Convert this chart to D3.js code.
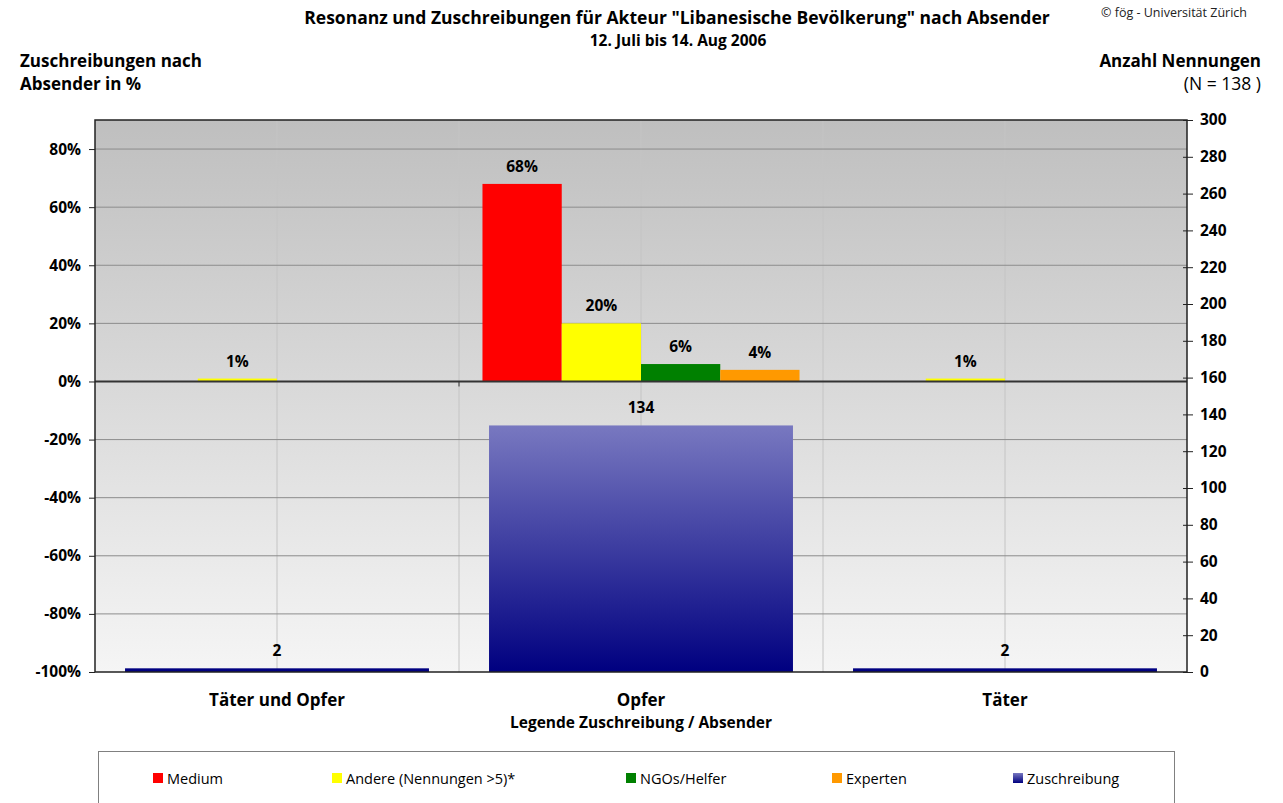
<!DOCTYPE html>
<html>
<head>
<meta charset="utf-8">
<script src="https://cdn.jsdelivr.net/npm/d3@7"></script>
<style>
  body { margin: 0; background: #fff; }
  svg { font-family: "Open Sans", sans-serif; }
</style>
</head>
<body>
<script>
const categories = ["Täter und Opfer", "Opfer", "Täter"];
const seriesNames = ["Medium", "Andere (Nennungen >5)*", "NGOs/Helfer", "Experten"];
const seriesColors = ["#ff0000", "#ffff00", "#008000", "#ff9900"];
const medium = [0, 68, 0];
const andere = [1, 20, 1];
const ngos = [0, 6, 0];
const experten = [0, 4, 0];
const zuschreibung = [2, 134, 2];
const pctTicks = [-100, -80, -60, -40, -20, 0, 20, 40, 60, 80];
const countTicks = [0, 20, 40, 60, 80, 100, 120, 140, 160, 180, 200, 220, 240, 260, 280, 300];

const seriesValues = [medium, andere, ngos, experten];

const W = 1283, H = 803;
const pLeft = 95, pRight = 1187, pTop = 120, pBottom = 672;

const svg = d3.select("body").append("svg")
    .attr("width", W).attr("height", H);

const defs = svg.append("defs");
const bg = defs.append("linearGradient").attr("id", "bg")
    .attr("x1", 0).attr("y1", 0).attr("x2", 0).attr("y2", 1);
bg.append("stop").attr("offset", "0%").attr("stop-color", "#bfbfbf");
bg.append("stop").attr("offset", "100%").attr("stop-color", "#f5f5f5");

const blue = defs.append("linearGradient").attr("id", "blue")
    .attr("gradientUnits", "userSpaceOnUse")
    .attr("x1", 0).attr("y1", 426).attr("x2", 0).attr("y2", pBottom);
blue.append("stop").attr("offset", "0%").attr("stop-color", "#7878c0");
blue.append("stop").attr("offset", "100%").attr("stop-color", "#000080");

// scales
const yPct = d3.scaleLinear().domain([-100, 90]).range([pBottom, pTop]);
const yCnt = d3.scaleLinear().domain([0, 300]).range([pBottom, pTop]);
const x = d3.scaleBand().domain(categories).range([pLeft, pRight]);
const xGroup = d3.scaleBand().domain(categories).range([pLeft, pRight])
    .paddingInner(0.129).paddingOuter(0.0645);
const xInner = d3.scaleBand().domain(seriesNames).range([0, xGroup.bandwidth()]);
const xZu = d3.scaleBand().domain(categories).range([pLeft, pRight])
    .paddingInner(0.165).paddingOuter(0.0825);

// plot background
svg.append("rect")
    .attr("x", pLeft).attr("y", pTop)
    .attr("width", pRight - pLeft).attr("height", pBottom - pTop)
    .attr("fill", "url(#bg)");

// vertical grid at category centers and borders
const vLines = [];
categories.forEach((c, i) => {
    vLines.push(x(c) + x.bandwidth() / 2);
    if (i > 0) vLines.push(x(c));
});
svg.append("g").selectAll("line").data(vLines).join("line")
    .attr("x1", d => d).attr("x2", d => d)
    .attr("y1", pTop).attr("y2", pBottom)
    .attr("stroke", "#c4c4c4").attr("stroke-width", 1);

// horizontal grid
svg.append("g").selectAll("line")
    .data(pctTicks.filter(d => d !== 0 && d !== -100)).join("line")
    .attr("x1", pLeft).attr("x2", pRight)
    .attr("y1", d => yPct(d)).attr("y2", d => yPct(d))
    .attr("stroke", "#8c8c8c").attr("stroke-width", 1);

// percentage bars
const pctData = [];
seriesNames.forEach((s, si) => categories.forEach((c, ci) => {
    if (seriesValues[si][ci] > 0) pctData.push({ s, si, c, v: seriesValues[si][ci] });
}));

svg.append("g").selectAll("rect").data(pctData).join("rect")
    .attr("x", d => xGroup(d.c) + xInner(d.s))
    .attr("y", d => yPct(d.v))
    .attr("width", xInner.bandwidth())
    .attr("height", d => yPct(0) - yPct(d.v))
    .attr("fill", d => seriesColors[d.si]);

svg.append("g").selectAll("text").data(pctData).join("text")
    .attr("x", d => xGroup(d.c) + xInner(d.s) + xInner.bandwidth() / 2)
    .attr("y", d => yPct(d.v) - 12)
    .attr("text-anchor", "middle")
    .attr("font-size", 15.5).attr("font-weight", "bold")
    .text(d => d.v + "%");

// Zuschreibung bars
svg.append("g").selectAll("rect")
    .data(categories).join("rect")
    .attr("x", c => xZu(c))
    .attr("y", (c, i) => yCnt(zuschreibung[i]))
    .attr("width", xZu.bandwidth())
    .attr("height", (c, i) => yCnt(0) - yCnt(zuschreibung[i]))
    .attr("fill", "url(#blue)");

svg.append("g").selectAll("text")
    .data(categories).join("text")
    .attr("x", c => xZu(c) + xZu.bandwidth() / 2)
    .attr("y", (c, i) => yCnt(zuschreibung[i]) - 12)
    .attr("text-anchor", "middle")
    .attr("font-size", 15.5).attr("font-weight", "bold")
    .text((c, i) => zuschreibung[i]);

// zero line
svg.append("line")
    .attr("x1", pLeft).attr("x2", pRight)
    .attr("y1", yPct(0)).attr("y2", yPct(0))
    .attr("stroke", "#333").attr("stroke-width", 2);
svg.append("line")
    .attr("x1", x(categories[1])).attr("x2", x(categories[1]))
    .attr("y1", yPct(0)).attr("y2", yPct(0) + 5)
    .attr("stroke", "#333");

// frame
svg.append("path")
    .attr("d", `M${pLeft},${pBottom}V${pTop}H${pRight}V${pBottom}H${pLeft}`)
    .attr("fill", "none").attr("stroke", "#222").attr("stroke-width", 1.5);

// left axis
const axL = svg.append("g")
    .attr("transform", `translate(${pLeft},0)`)
    .call(d3.axisLeft(yPct).tickValues(pctTicks).tickFormat(d => d + "%")
        .tickSize(6).tickPadding(8));
axL.select(".domain").remove();
axL.selectAll("text").attr("font-size", 15.5).attr("font-weight", "bold")
    .attr("fill", "#000").style("font-family", "Open Sans");
axL.selectAll("line").attr("stroke", "#222");

// right axis
const axR = svg.append("g")
    .attr("transform", `translate(${pRight},0)`)
    .call(d3.axisRight(yCnt).tickValues(countTicks).tickSize(6).tickPadding(7));
axR.select(".domain").remove();
axR.selectAll("line").attr("x1", -4).attr("stroke", "#222");
axR.selectAll("text").attr("font-size", 15.5).attr("font-weight", "bold")
    .attr("fill", "#000").style("font-family", "Open Sans");

// category labels
svg.append("g").selectAll("text").data(categories).join("text")
    .attr("x", c => x(c) + x.bandwidth() / 2)
    .attr("y", 706)
    .attr("text-anchor", "middle")
    .attr("font-size", 17).attr("font-weight", "bold")
    .text(c => c);

svg.append("text")
    .attr("x", x(categories[1]) + x.bandwidth() / 2).attr("y", 728)
    .attr("text-anchor", "middle")
    .attr("font-size", 15.5).attr("font-weight", "bold")
    .text("Legende Zuschreibung / Absender");

// titles
svg.append("text").attr("x", 677).attr("y", 24)
    .attr("text-anchor", "middle")
    .attr("font-size", 17.5).attr("font-weight", "bold")
    .text('Resonanz und Zuschreibungen für Akteur "Libanesische Bevölkerung" nach Absender');
svg.append("text").attr("x", 678).attr("y", 46)
    .attr("text-anchor", "middle")
    .attr("font-size", 15.5).attr("font-weight", "bold")
    .text("12. Juli bis 14. Aug 2006");
svg.append("text").attr("x", 1247).attr("y", 17)
    .attr("text-anchor", "end")
    .attr("font-size", 12.5).attr("fill", "#222")
    .text("© fög - Universität Zürich");

svg.append("text").attr("x", 20).attr("y", 67)
    .attr("font-size", 17).attr("font-weight", "bold")
    .text("Zuschreibungen nach");
svg.append("text").attr("x", 20).attr("y", 90)
    .attr("font-size", 17).attr("font-weight", "bold")
    .text("Absender in %");
svg.append("text").attr("x", 1261).attr("y", 67)
    .attr("text-anchor", "end")
    .attr("font-size", 17).attr("font-weight", "bold")
    .text("Anzahl Nennungen");
svg.append("text").attr("x", 1261).attr("y", 90)
    .attr("text-anchor", "end")
    .attr("font-size", 17.5)
    .text("(N = 138 )");

// legend
svg.append("rect")
    .attr("x", 98.5).attr("y", 751.5)
    .attr("width", 1076).attr("height", 60)
    .attr("fill", "#fff").attr("stroke", "#808080");

const lb = defs.append("linearGradient").attr("id", "legBlue")
    .attr("x1", 0).attr("y1", 0).attr("x2", 0).attr("y2", 1);
lb.append("stop").attr("offset", "0%").attr("stop-color", "#7878c0");
lb.append("stop").attr("offset", "100%").attr("stop-color", "#000080");

const legendItems = seriesNames.concat(["Zuschreibung"]);
const legendColors = seriesColors.concat(["url(#legBlue)"]);
const legendX = [153, 332, 626, 832, 1013];

const li = svg.append("g").selectAll("g").data(legendItems).join("g")
    .attr("transform", (d, i) => `translate(${legendX[i]},773)`);
li.append("rect").attr("width", 10).attr("height", 10)
    .attr("fill", (d, i) => legendColors[i]);
li.append("text").attr("x", 14).attr("y", 10.5)
    .attr("font-size", 14.5)
    .text(d => d);
</script>
</body>
</html>
